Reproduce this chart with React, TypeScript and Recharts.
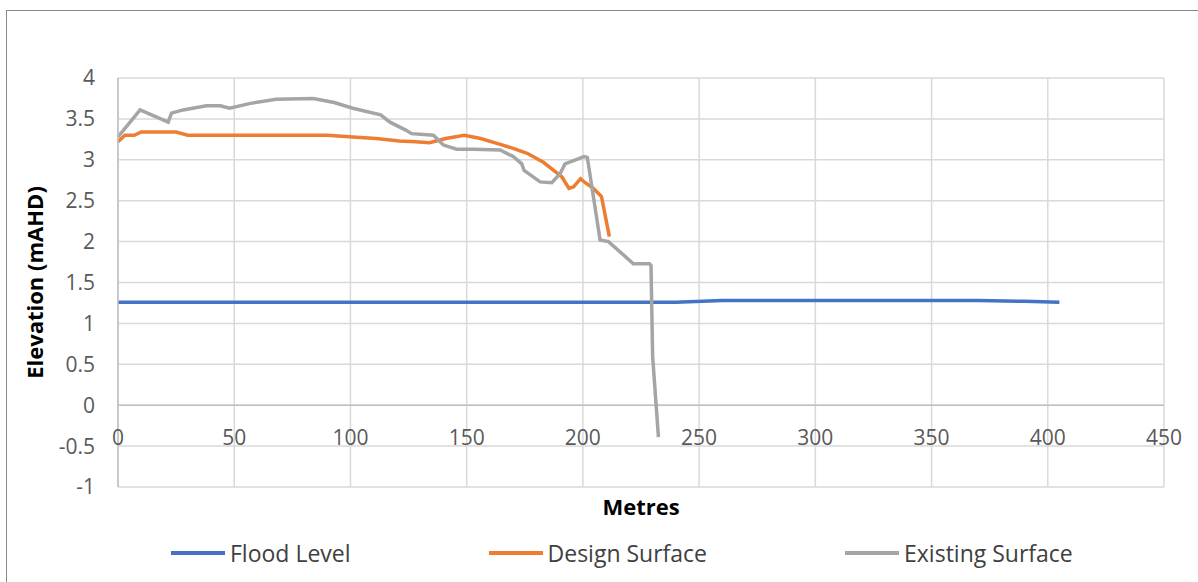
import {
  LineChart,
  Line,
  XAxis,
  YAxis,
  CartesianGrid,
  ReferenceLine,
} from 'recharts';

// Flood Level
const floodX = [0, 240, 260, 370, 390, 405];
const floodY = [1.26, 1.26, 1.28, 1.28, 1.27, 1.26];

// Design Surface
const designX = [0, 3, 7, 10, 25, 30, 60, 90, 101, 111, 121, 128, 134, 141, 149, 156, 163, 170, 176, 183, 191, 194, 196, 199, 201, 204.5, 208, 211.4];
const designY = [3.22, 3.3, 3.3, 3.34, 3.34, 3.3, 3.3, 3.3, 3.28, 3.26, 3.23, 3.22, 3.21, 3.26, 3.3, 3.26, 3.2, 3.14, 3.08, 2.97, 2.79, 2.65, 2.67, 2.77, 2.72, 2.65, 2.55, 2.06];

// Existing Surface
const existingX = [0, 9.5, 21.6, 23, 28, 38, 44, 48, 57, 68, 84, 93, 101, 113, 117, 124, 126.3, 135.7, 140, 145.7, 153, 164.4, 170, 173.7, 174.7, 181.6, 186.6, 190.2, 192.3, 196, 200.5, 201.9, 207.4, 211, 221.7, 228.6, 229.3, 230, 232.5];
const existingY = [3.28, 3.61, 3.46, 3.57, 3.61, 3.66, 3.66, 3.63, 3.69, 3.74, 3.75, 3.7, 3.63, 3.55, 3.46, 3.36, 3.32, 3.3, 3.18, 3.13, 3.13, 3.12, 3.04, 2.95, 2.87, 2.73, 2.72, 2.83, 2.95, 2.99, 3.04, 3.03, 2.02, 2.0, 1.73, 1.73, 1.71, 0.6, -0.39];

const xTicks = [0, 50, 100, 150, 200, 250, 300, 350, 400, 450];
const yTicks = [-1, -0.5, 0, 0.5, 1, 1.5, 2, 2.5, 3, 3.5, 4];

const toPoints = (xs: number[], ys: number[]) => xs.map((x, i) => ({ x, y: ys[i] }));

const series = [
  { name: 'Flood Level', color: '#4472C4', data: toPoints(floodX, floodY) },
  { name: 'Design Surface', color: '#ED7D31', data: toPoints(designX, designY) },
  { name: 'Existing Surface', color: '#A5A5A5', data: toPoints(existingX, existingY) },
];

const FONT = '"Open Sans", "Noto Sans", sans-serif';

// Excel puts the x labels just under the y = 0 axis line
const XTick = ({ x, y, payload }: any) => (
  <text
    x={x}
    y={y - 50}
    textAnchor="middle"
    dominantBaseline="central"
    fill="#595959"
    fontSize={21}
    fontFamily={FONT}
  >
    {payload.value}
  </text>
);

export default function App() {
  return (
    <div
      style={{
        position: 'absolute',
        left: 0,
        top: 0,
        width: 1198,
        height: 582,
        overflow: 'hidden',
        background: '#fff',
        fontFamily: FONT,
      }}
    >
      <div
        style={{
          position: 'absolute',
          left: 6,
          top: 10,
          width: 1300,
          height: 700,
          border: '1px solid #898989',
        }}
      />
      <div style={{ position: 'absolute', left: 0, top: 0 }}>
        <LineChart width={1198} height={582} margin={{ top: 78, right: 34, bottom: 0, left: 0 }}>
          <CartesianGrid stroke="#d9d9d9" strokeWidth={1.5} />
          <XAxis
            dataKey="x"
            type="number"
            domain={[0, 450]}
            ticks={xTicks}
            height={95}
            axisLine={false}
            tickLine={false}
            tickSize={0}
            tickMargin={0}
            tick={<XTick />}
            label={{
              value: 'Metres',
              position: 'center',
              dy: -27,
              fill: '#000',
              fontSize: 22,
              fontWeight: 700,
              fontFamily: FONT,
            }}
          />
          <YAxis
            type="number"
            domain={[-1, 4]}
            ticks={yTicks}
            width={118}
            axisLine={{ stroke: '#bfbfbf', strokeWidth: 1.5 }}
            tickLine={false}
            tickSize={0}
            tickMargin={23}
            tick={{ fill: '#595959', fontSize: 21, fontFamily: FONT }}
            label={{
              value: 'Elevation (mAHD)',
              angle: -90,
              position: 'center',
              dx: -24,
              fill: '#000',
              fontSize: 22,
              fontWeight: 700,
              fontFamily: FONT,
            }}
          />
          <ReferenceLine y={0} stroke="#bfbfbf" strokeWidth={1.5} />
          {series.map((s) => (
            <Line
              key={s.name}
              data={s.data}
              dataKey="y"
              name={s.name}
              type="linear"
              stroke={s.color}
              strokeWidth={3.5}
              dot={false}
              activeDot={false}
              isAnimationActive={false}
            />
          ))}
        </LineChart>
      </div>
      <div
        style={{
          position: 'absolute',
          left: 171,
          top: 553,
          transform: 'translateY(-50%)',
          display: 'flex',
          alignItems: 'center',
          gap: 138,
          fontSize: 23,
          color: '#404040',
          whiteSpace: 'nowrap',
        }}
      >
        {series.map((s) => (
          <div key={s.name} style={{ display: 'flex', alignItems: 'center', gap: 5 }}>
            <span style={{ display: 'inline-block', width: 54, height: 3.5, background: s.color }} />
            <span>{s.name}</span>
          </div>
        ))}
      </div>
    </div>
  );
}
